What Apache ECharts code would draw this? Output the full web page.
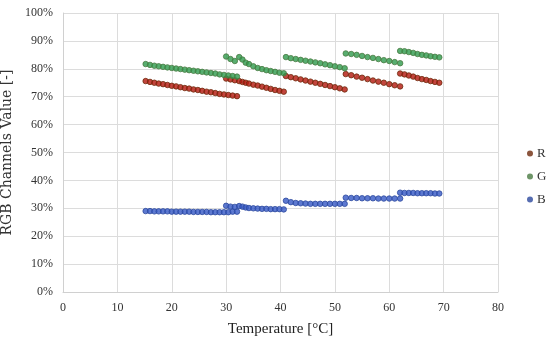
<!DOCTYPE html>
<html><head><meta charset="utf-8">
<script src="https://cdn.jsdelivr.net/npm/echarts@6/dist/echarts.min.js"></script>
<style>html,body{margin:0;padding:0;background:#fff}#c{width:550px;height:341px}</style>
</head><body><div id="c"></div>
<script>
// Temperatures [°C] for each measurement (five heating segments)
const temps = [
  15.2,16.0,16.8,17.6,18.4,19.2,20.0,20.8,21.6,22.4,23.2,24.0,24.8,25.6,26.4,27.2,28.0,28.8,29.6,30.4,31.2,32.0,
  30.0,30.8,31.6,32.4,33.0,33.6,34.2,35.0,35.8,36.6,37.4,38.2,39.0,39.8,40.6,
  41.0,41.9,42.8,43.7,44.6,45.5,46.4,47.3,48.2,49.1,50.0,50.9,51.8,
  52.0,53.0,54.0,55.0,56.0,57.0,58.0,59.0,60.0,61.0,62.0,
  62.0,62.8,63.6,64.4,65.2,66.0,66.8,67.6,68.4,69.2
];
// Channel values [%]
const valuesR = [
  75.6,75.3,75.0,74.7,74.5,74.2,73.9,73.7,73.4,73.1,72.9,72.6,72.4,72.1,71.8,71.6,71.3,71.0,70.8,70.6,70.4,70.2,
  76.5,76.2,75.9,75.6,75.3,75.0,74.7,74.3,74.0,73.6,73.2,72.8,72.4,72.1,71.8,
  77.4,77.0,76.6,76.2,75.8,75.4,75.0,74.6,74.2,73.8,73.4,73.0,72.6,
  78.1,77.7,77.2,76.8,76.3,75.8,75.4,75.0,74.5,74.1,73.7,
  78.3,78.0,77.6,77.2,76.7,76.3,76.0,75.6,75.3,75.0
];
const valuesG = [
  81.7,81.4,81.1,80.9,80.7,80.5,80.3,80.1,79.9,79.7,79.5,79.3,79.1,78.9,78.7,78.5,78.3,78.0,77.8,77.6,77.4,77.2,
  84.4,83.5,82.8,84.2,83.3,82.2,81.7,80.9,80.3,79.9,79.5,79.2,78.9,78.6,78.4,
  84.2,83.8,83.5,83.2,82.9,82.6,82.3,82.0,81.6,81.3,80.9,80.6,80.2,
  85.5,85.3,85.0,84.6,84.2,83.9,83.5,83.1,82.8,82.4,82.0,
  86.4,86.3,86.0,85.7,85.3,85.0,84.8,84.5,84.3,84.1
];
const valuesB = [
  29.0,29.0,28.9,28.9,28.9,28.9,28.8,28.8,28.8,28.8,28.8,28.7,28.7,28.7,28.7,28.6,28.6,28.6,28.6,28.6,28.8,28.8,
  30.9,30.6,30.5,30.8,30.6,30.3,30.1,30.0,29.9,29.8,29.8,29.7,29.7,29.7,29.6,
  32.7,32.2,31.9,31.8,31.7,31.6,31.6,31.6,31.6,31.6,31.6,31.6,31.6,
  33.8,33.7,33.7,33.6,33.6,33.6,33.5,33.5,33.5,33.5,33.5,
  35.6,35.5,35.5,35.5,35.4,35.4,35.4,35.4,35.3,35.3
];
const seriesNames = ['R','G','B'];
const xTicks = [0,10,20,30,40,50,60,70,80];
const yTicks = [0,10,20,30,40,50,60,70,80,90,100];

const pair = v => temps.map((t,i)=>[t,v[i]]);
const font = 'Liberation Serif';
const chart = echarts.init(document.getElementById('c'));
const styles = [
  {fill:'#b3160c', border:'#6e2a0c'},
  {fill:'#2e9a4c', border:'#4a7a42'},
  {fill:'#3458c4', border:'#2c489e'}
];
const data = [valuesR, valuesG, valuesB];
chart.setOption({
  animation:false,
  textStyle:{fontFamily:font},
  grid:{left:63,right:52,top:13,bottom:49,containLabel:false,outerBoundsMode:'none'},
  legend:{
    orient:'vertical', left:522, top:142, itemGap:10,
    itemWidth:6, itemHeight:6,
    textStyle:{fontFamily:font,fontSize:13,color:'#333',padding:[0,0,0,-1]},
    data:seriesNames.map((n,i)=>({name:n,icon:'circle',itemStyle:{color:styles[i].border,borderWidth:0}}))
  },
  xAxis:{
    type:'value', min:xTicks[0], max:xTicks[xTicks.length-1], interval:10,
    name:'Temperature [°C]', nameLocation:'middle', nameGap:30,
    nameTextStyle:{fontFamily:font,fontSize:15,color:'#222'},
    axisLine:{show:true,lineStyle:{color:'#d0d0d0'}},
    axisTick:{show:false},
    axisLabel:{fontFamily:font,fontSize:12,color:'#333',margin:10},
    splitLine:{show:true,lineStyle:{color:'#dcdcdc'}}
  },
  yAxis:{
    type:'value', min:yTicks[0], max:yTicks[yTicks.length-1], interval:10,
    name:'RGB Channels Value [-]', nameLocation:'middle', nameGap:41,
    nameTextStyle:{fontFamily:'DejaVu Serif',fontSize:14,color:'#333'},
    axisLine:{show:true,lineStyle:{color:'#d0d0d0'}},
    axisTick:{show:false},
    axisLabel:{fontFamily:font,fontSize:12,color:'#333',margin:10,formatter:v=>v+'%'},
    splitLine:{show:true,lineStyle:{color:'#dcdcdc'}}
  },
  series:seriesNames.map((n,i)=>({
    name:n, type:'scatter', symbol:'circle', symbolSize:5.5,
    itemStyle:{color:styles[i].fill, borderColor:styles[i].border, borderWidth:1},
    data:pair(data[i])
  }))
});
</script></body></html>
